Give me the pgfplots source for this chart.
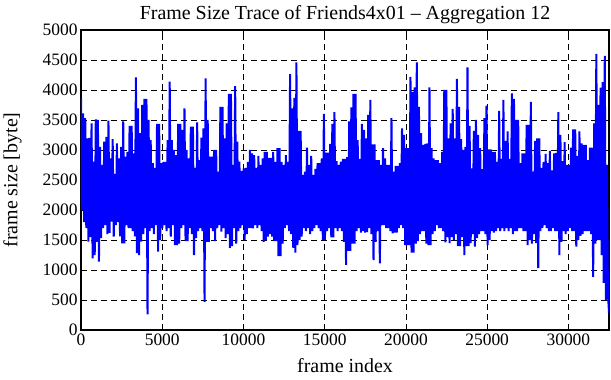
\documentclass[border=0pt]{standalone}
\usepackage{pgfplots}
\pgfplotsset{compat=1.18}
\usepackage{fontspec}
\setmainfont{Liberation Serif}
\begin{document}
\begin{tikzpicture}
\useasboundingbox (-81bp,-50bp) rectangle (530bp,330bp);
\begin{axis}[
 at={(0,0)}, anchor=south west,
 scale only axis, width=528bp, height=300bp,
 xmin=0, xmax=32500, ymin=0, ymax=5000,
 xtick={0,5000,...,30000}, ytick={0,500,...,5000},
 scaled x ticks=false, scaled y ticks=false,
 /pgf/number format/set thousands separator={},
 /pgf/number format/assume math mode=true,
 tick label style={font=\fontsize{17.5}{20}\selectfont},
 label style={font=\fontsize{20}{22}\selectfont},
 title style={font=\fontsize{20}{22}\selectfont, yshift=-3bp},
 xlabel style={yshift=-6bp},
 ylabel style={yshift=14bp},
 title={Frame Size Trace of Friends4x01 -- Aggregation 12},
 xlabel={frame index}, ylabel={frame size [byte]},
 grid=major, major grid style={black, line width=0.6bp, dash pattern=on 6bp off 4bp},
 tick align=inside, major tick length=5bp,
 tick style={black, line width=0.8bp},
 axis line style={line width=1.2bp},
]
\addplot[blue, line width=2bp] coordinates {
(0,3870)(65,2000)(130,3610)(195,1800)(260,3530)(325,1700)(390,3195)(455,1472)(520,3200)(585,1550)
(650,3445)(715,1195)(780,2805)(845,1250)(910,3512)(975,1470)(1040,3500)(1105,1140)(1170,3050)(1235,1530)
(1300,2750)(1365,1700)(1430,3140)(1495,1750)(1560,3220)(1625,1600)(1690,3490)(1755,1620)(1820,2860)(1885,1805)
(1950,3180)(2015,1555)(2080,2600)(2145,1750)(2210,3110)(2275,1800)(2340,2860)(2405,1560)(2470,3050)(2535,1445)
(2600,3475)(2665,1445)(2730,2890)(2795,1750)(2860,2970)(2925,1700)(2990,3400)(3055,1700)(3120,3400)(3185,1650)
(3250,2945)(3315,1560)(3380,4210)(3445,1280)(3510,3695)(3575,1250)(3640,3280)(3705,1472)(3770,3750)(3835,1600)
(3900,3850)(3965,1700)(4030,3850)(4095,261)(4160,3500)(4225,1650)(4290,3165)(4355,1700)(4420,2780)(4485,1600)
(4550,2700)(4615,1750)(4680,3435)(4745,1305)(4810,3435)(4875,1500)(4940,2780)(5005,1700)(5070,2800)(5135,1750)
(5200,2800)(5265,1650)(5330,3165)(5395,1700)(5460,4140)(5525,1555)(5590,3165)(5655,1750)(5720,3000)(5785,1415)
(5850,2915)(5915,1415)(5980,3435)(6045,1440)(6110,3435)(6175,1700)(6240,3335)(6305,1750)(6370,3695)(6435,1480)
(6500,3000)(6565,1480)(6630,2860)(6695,1700)(6760,3390)(6825,1600)(6890,3390)(6955,1250)(7020,2700)(7085,1530)
(7150,3460)(7215,1650)(7280,2830)(7345,1700)(7410,3205)(7475,1650)(7540,3360)(7605,470)(7670,4195)(7735,1470)
(7800,3500)(7865,1470)(7930,2890)(7995,1700)(8060,2890)(8125,1650)(8190,3000)(8255,1480)(8320,3000)(8385,1700)
(8450,2640)(8515,1750)(8580,3720)(8645,1640)(8710,3720)(8775,1700)(8840,3195)(8905,1530)(8970,3445)(9035,1600)
(9100,3935)(9165,1370)(9230,3935)(9295,1400)(9360,2750)(9425,1700)(9490,4065)(9555,1440)(9620,3140)(9685,1650)
(9750,2805)(9815,1700)(9880,2650)(9945,1750)(10010,2695)(10075,1500)(10140,2700)(10205,1600)(10270,2800)(10335,1700)
(10400,3000)(10465,1700)(10530,2945)(10595,1695)(10660,2915)(10725,1750)(10790,2700)(10855,1700)(10920,2900)(10985,1750)
(11050,2750)(11115,1650)(11180,2860)(11245,1470)(11310,2970)(11375,1500)(11440,2970)(11505,1555)(11570,2870)(11635,1600)
(11700,2870)(11765,1555)(11830,2970)(11895,1480)(11960,2800)(12025,1480)(12090,3030)(12155,1230)(12220,3030)(12285,1230)
(12350,2800)(12415,1440)(12480,2750)(12545,1700)(12610,2915)(12675,1750)(12740,2800)(12805,1650)(12870,4265)(12935,1600)
(13000,3695)(13065,1370)(13130,3870)(13195,1290)(13260,4460)(13325,1415)(13390,3320)(13455,1500)(13520,3320)(13585,1555)
(13650,2585)(13715,1700)(13780,2640)(13845,1650)(13910,3040)(13975,1700)(14040,2750)(14105,1600)(14170,2900)(14235,1650)
(14300,2585)(14365,1700)(14430,2685)(14495,1750)(14560,2780)(14625,1700)(14690,2780)(14755,1650)(14820,2860)(14885,1500)
(14950,3600)(15015,1500)(15080,2955)(15145,1650)(15210,2955)(15275,1700)(15340,3100)(15405,1545)(15470,3435)(15535,1545)
(15600,3630)(15665,1700)(15730,2815)(15795,1650)(15860,2750)(15925,1700)(15990,2805)(16055,1650)(16120,2850)(16185,1470)
(16250,2850)(16315,1085)(16380,2880)(16445,1320)(16510,3475)(16575,1320)(16640,3710)(16705,1440)(16770,3935)(16835,1440)
(16900,3935)(16965,1650)(17030,3165)(17095,1700)(17160,2850)(17225,1625)(17290,3435)(17355,1650)(17420,3335)(17485,1625)
(17550,3195)(17615,1630)(17680,3585)(17745,1700)(17810,3835)(17875,1600)(17940,3095)(18005,1165)(18070,3095)(18135,1470)
(18200,2830)(18265,1650)(18330,2830)(18395,1110)(18460,2750)(18525,1750)(18590,3030)(18655,1750)(18720,2860)(18785,1700)
(18850,2750)(18915,1700)(18980,2750)(19045,1650)(19110,3530)(19175,1610)(19240,2640)(19305,1625)(19370,2735)(19435,1625)
(19500,2735)(19565,1700)(19630,2780)(19695,1750)(19760,3360)(19825,1700)(19890,3250)(19955,1415)(20020,3030)(20085,1415)
(20150,3030)(20215,1415)(20280,4220)(20345,1290)(20410,3970)(20475,1290)(20540,4045)(20605,1440)(20670,4460)(20735,1480)
(20800,3720)(20865,1600)(20930,3280)(20995,1650)(21060,3085)(21125,1650)(21190,3100)(21255,1440)(21320,3110)(21385,1415)
(21450,4045)(21515,1415)(21580,3030)(21645,1600)(21710,2860)(21775,1650)(21840,2830)(21905,1750)(21970,2830)(22035,1700)
(22100,2780)(22165,1700)(22230,2970)(22295,1650)(22360,4000)(22425,1460)(22490,4000)(22555,1550)(22620,3195)(22685,1450)
(22750,3445)(22815,1550)(22880,3685)(22945,1500)(23010,3195)(23075,1600)(23140,4185)(23205,1400)(23270,3720)(23335,1400)
(23400,3180)(23465,1550)(23530,3000)(23595,1250)(23660,3050)(23725,1400)(23790,4375)(23855,1400)(23920,3400)(23985,1450)
(24050,2695)(24115,1600)(24180,3320)(24245,1390)(24310,3500)(24375,1530)(24440,3250)(24505,1600)(24570,3030)(24635,1650)
(24700,2680)(24765,1650)(24830,3530)(24895,1600)(24960,3740)(25025,1415)(25090,3010)(25155,1500)(25220,3010)(25285,1650)
(25350,2970)(25415,1625)(25480,2970)(25545,1650)(25610,2800)(25675,1700)(25740,3650)(25805,1650)(25870,2850)(25935,1700)
(26000,3835)(26065,1650)(26130,3150)(26195,1700)(26260,3310)(26325,1650)(26390,2850)(26455,1700)(26520,3945)(26585,1600)
(26650,3850)(26715,1650)(26780,3500)(26845,1650)(26910,3500)(26975,1700)(27040,2780)(27105,1700)(27170,2945)(27235,1650)
(27300,2945)(27365,1650)(27430,3420)(27495,1415)(27560,3420)(27625,1500)(27690,3800)(27755,1440)(27820,2640)(27885,1600)
(27950,3150)(28015,1450)(28080,3195)(28145,1030)(28210,3195)(28275,1650)(28340,2700)(28405,1700)(28470,2800)(28535,1750)
(28600,2935)(28665,1700)(28730,2780)(28795,1650)(28860,2985)(28925,1650)(28990,2660)(29055,1700)(29120,2945)(29185,1650)
(29250,2950)(29315,1650)(29380,3630)(29445,1250)(29510,3250)(29575,1470)(29640,2815)(29705,1650)(29770,3130)(29835,1600)
(29900,2750)(29965,1650)(30030,2750)(30095,1700)(30160,3040)(30225,1650)(30290,3345)(30355,1650)(30420,3345)(30485,1390)
(30550,2900)(30615,1500)(30680,3310)(30745,1570)(30810,3110)(30875,1600)(30940,3085)(31005,1650)(31070,3085)(31135,1650)
(31200,2830)(31265,1650)(31330,3040)(31395,1600)(31460,3040)(31525,885)(31590,3445)(31655,1440)(31720,4600)(31785,1500)
(31850,3750)(31915,1500)(31980,4040)(32045,1250)(32110,4130)(32175,785)(32240,4570)(32305,500)(32370,2750)(32435,600)
(32500,290)
};
\end{axis}
\end{tikzpicture}
\end{document}
